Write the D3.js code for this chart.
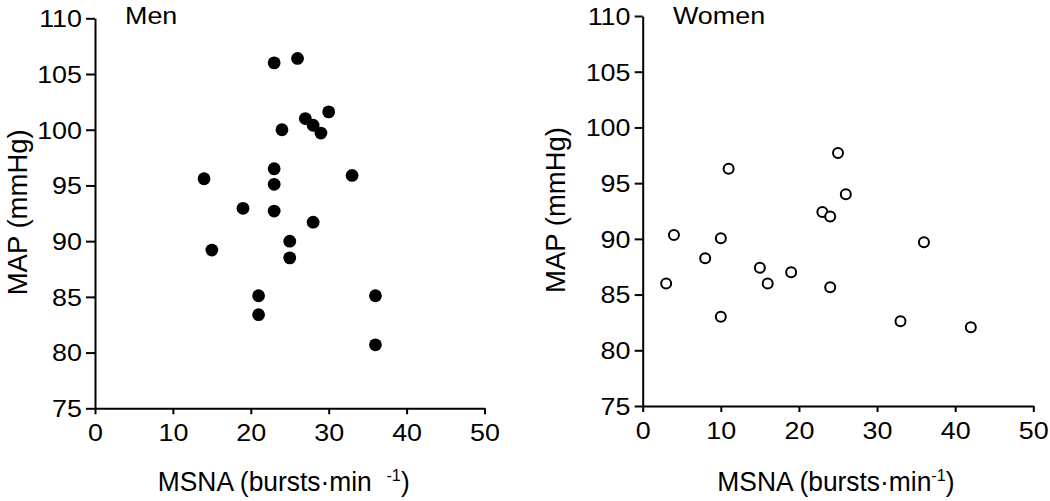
<!DOCTYPE html>
<html>
<head>
<meta charset="utf-8">
<script src="https://cdn.jsdelivr.net/npm/d3@7"></script>
<style>
  html, body { margin: 0; padding: 0; background: #fff; }
  svg text { font-family: "Liberation Sans", Arial, Helvetica, sans-serif; fill: #000; }
</style>
</head>
<body>
<svg id="chart" width="1050" height="501"></svg>
<script>
// ---- Data ----
const menMSNA = [23, 26, 30, 27, 28, 29, 24, 23, 23, 14, 33, 19, 23, 28, 25, 25, 15, 21, 21, 36, 36];
const menMAP  = [106.0, 106.4, 101.6, 101.0, 100.4, 99.7, 100.0, 96.5, 95.1, 95.6, 95.9, 92.95, 92.7, 91.7, 90.0, 88.5, 89.2, 85.1, 83.4, 85.1, 80.7];

const womenMSNA = [25, 11, 26, 23, 24, 4, 10, 8, 15, 19, 3, 16, 24, 10, 36, 33, 42];
const womenMAP  = [97.7, 96.3, 94.0, 92.4, 92.0, 90.35, 90.05, 88.26, 87.4, 87.0, 86.0, 86.0, 85.65, 83.0, 89.7, 82.6, 82.06];

const xTicks = [0, 10, 20, 30, 40, 50];
const yTicks = [75, 80, 85, 90, 95, 100, 105, 110];
const panelTitles = ["Men", "Women"];

const svg = d3.select("#chart");
const SX = 1.12; // horizontal stretch of the reference's small text

const panels = [
  { title: panelTitles[0], xs: menMSNA, ys: menMAP, filled: true,
    left: 95, right: 484.5, top: 18.3, bottom: 408.3, gapSup: true,
    titleX: 125, yTitleOff: 68, yTick: 9, yLabelEnd: 82 },
  { title: panelTitles[1], xs: womenMSNA, ys: womenMAP, filled: false,
    left: 642.7, right: 1033.3, top: 16, bottom: 406, gapSup: false,
    titleX: 673, yTitleOff: 77.5, yTick: 8, yLabelEnd: 630.5 }
];

panels.forEach(p => {
  const g = svg.append("g");
  const x = d3.scaleLinear().domain([0, 50]).range([p.left, p.right]);
  const y = d3.scaleLinear().domain([75, 110]).range([p.bottom, p.top]);

  // Y axis
  const ya = g.append("g")
    .attr("transform", `translate(${p.left},0)`)
    .call(d3.axisLeft(y).tickValues(yTicks).tickSize(p.yTick).tickSizeOuter(0).tickPadding(3));
  // X axis
  const xa = g.append("g")
    .attr("transform", `translate(0,${p.bottom})`)
    .call(d3.axisBottom(x).tickValues(xTicks).tickSize(6).tickSizeOuter(0).tickPadding(10));

  [ya, xa].forEach(a => {
    a.select(".domain").attr("stroke", "#000").attr("stroke-width", 2);
    a.selectAll(".tick line").attr("stroke", "#000").attr("stroke-width", 2);
    a.selectAll(".tick text").attr("font-size", 24).attr("font-family", null).attr("fill", "#000");
  });
  xa.selectAll(".tick text").attr("dy", "0.71em").attr("transform", `scale(${SX},1)`);
  ya.selectAll(".tick text")
    .attr("x", 0)
    .attr("dy", "0.35em")
    .attr("transform", `translate(${p.yLabelEnd - p.left},0) scale(${SX},1)`);

  // Panel title
  g.append("text")
    .attr("transform", `translate(${p.titleX},23.5) scale(${SX},1)`)
    .attr("font-size", 24)
    .text(p.title);

  // Points
  g.append("g").selectAll("circle")
    .data(p.xs.map((v, i) => [v, p.ys[i]]))
    .join("circle")
    .attr("cx", d => x(d[0]))
    .attr("cy", d => y(d[1]))
    .attr("r", p.filled ? 6.4 : 5)
    .attr("fill", p.filled ? "#000" : "#fff")
    .attr("stroke", "#000")
    .attr("stroke-width", p.filled ? 0 : 2);

  // X axis title
  const xt = g.append("text")
    .attr("transform", `translate(${(p.left + p.right) / 2 - (p.gapSup ? 6 : 2)},491) scale(0.96,1)`)
    .attr("text-anchor", "middle")
    .attr("font-size", 27.5);
  if (p.gapSup) xt.attr("xml:space", "preserve");
  xt.append("tspan").text(p.gapSup ? "MSNA (bursts\u00B7min  " : "MSNA (bursts\u00B7min");
  xt.append("tspan").attr("font-size", 17).attr("dy", -10).text("-1");
  xt.append("tspan").attr("dy", 10).text(")");

  // Y axis title
  g.append("text")
    .attr("transform", `translate(${p.left - p.yTitleOff},${(p.top + p.bottom) / 2 - 1}) rotate(-90)`)
    .attr("text-anchor", "middle")
    .attr("font-size", 27.5)
    .text("MAP (mmHg)");
});
</script>
</body>
</html>
